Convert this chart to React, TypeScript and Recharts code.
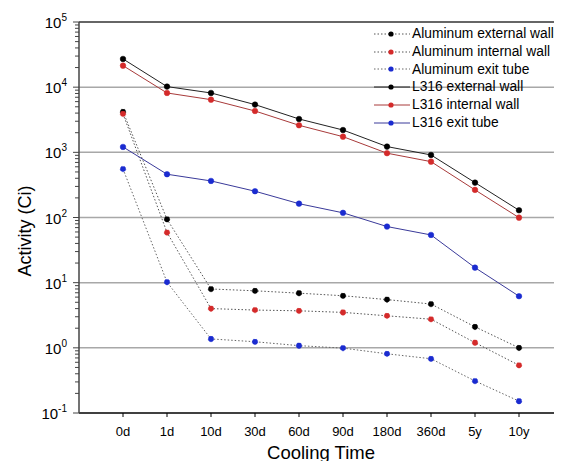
import { LineChart, Line, XAxis, YAxis, ReferenceLine, Legend } from "recharts"

const categories = ["0d", "1d", "10d", "30d", "60d", "90d", "180d", "360d", "5y", "10y"]

const alExternal = [4200, 94, 8.0, 7.5, 6.9, 6.3, 5.5, 4.7, 2.1, 1.0]
const alInternal = [3900, 59, 4.0, 3.8, 3.7, 3.5, 3.1, 2.75, 1.2, 0.54]
const alExit = [556, 10.2, 1.37, 1.24, 1.08, 0.99, 0.81, 0.68, 0.31, 0.152]
const lExternal = [27100, 10200, 8150, 5400, 3250, 2200, 1225, 912, 343, 129]
const lInternal = [21400, 8150, 6430, 4310, 2600, 1740, 970, 720, 265, 99.5]
const lExit = [1210, 461, 364, 253, 163, 118, 72.6, 54, 17, 6.2]

const gridDecades = [1, 10, 100, 1000, 10000]

const data = categories.map((c, i) => ({
  idx: i,
  label: c,
  alExternal: alExternal[i],
  alInternal: alInternal[i],
  alExit: alExit[i],
  lExternal: lExternal[i],
  lInternal: lInternal[i],
  lExit: lExit[i],
}))

// minor + major tick values for the log axis
const yTicks: number[] = []
for (let p = -1; p <= 5; p++) {
  for (let m = 1; m <= 9; m++) {
    if (p === 5 && m > 1) break
    yTicks.push(Number((m * Math.pow(10, p)).toPrecision(3)))
  }
}

const series = [
  { key: "alExternal", name: "Aluminum external wall", stroke: "#555", dot: "#000", dash: "1.5 2" },
  { key: "alInternal", name: "Aluminum internal wall", stroke: "#555", dot: "#d42a2a", dash: "1.5 2" },
  { key: "alExit", name: "Aluminum exit tube", stroke: "#666", dot: "#1a2bd0", dash: "1.5 2" },
  { key: "lExternal", name: "L316 external wall", stroke: "#222", dot: "#000", dash: undefined },
  { key: "lInternal", name: "L316 internal wall", stroke: "#a83a3a", dot: "#d42a2a", dash: undefined },
  { key: "lExit", name: "L316 exit tube", stroke: "#3a3a9a", dot: "#1a2bd0", dash: undefined },
]

const FONT = "'Liberation Sans', Arial, sans-serif"

const YTick = (props: any) => {
  const { y, payload } = props
  const v = payload.value
  const exp = Math.round(Math.log10(v))
  const major = Math.abs(Math.log10(v) - exp) < 1e-6
  return (
    <g>
      <line x1={major ? 73 : 75} x2={79} y1={y} y2={y} stroke="#444" strokeWidth={1} />
      {major && (
        <text x={67} y={y + 6} textAnchor="end" fontFamily={FONT} fontSize={15} fill="#000">
          <tspan>10</tspan>
          <tspan dy={-7} fontSize={10}>{exp}</tspan>
        </text>
      )}
    </g>
  )
}

const XTick = (props: any) => {
  const { x, payload } = props
  return (
    <text x={x} y={436} textAnchor="middle" fontFamily={FONT} fontSize={13} fill="#000">
      {categories[payload.value]}
    </text>
  )
}

const YLabel = () => (
  <text
    x={25}
    y={231}
    transform="rotate(-90, 25, 231)"
    textAnchor="middle"
    dominantBaseline="central"
    fontFamily={FONT}
    fontSize={18}
    fill="#000"
  >
    Activity (Ci)
  </text>
)

const XLabel = () => (
  <text x={321} y={459} textAnchor="middle" fontFamily={FONT} fontSize={18.5} fill="#000">
    Cooling Time
  </text>
)

const LegendBox = () => (
  <div style={{ fontFamily: FONT, fontSize: 13.8, lineHeight: "17.8px", color: "#000" }}>
    {series.map((s) => (
      <div key={s.key} style={{ display: "flex", alignItems: "center", height: 17.8, whiteSpace: "nowrap" }}>
        <svg width={37} height={10} style={{ marginRight: 1, flexShrink: 0 }}>
          <line x1={0} x2={36} y1={5} y2={5} stroke={s.stroke} strokeWidth={1} strokeDasharray={s.dash} />
          <circle cx={17} cy={5} r={2.6} fill={s.dot} />
        </svg>
        <span>{s.name}</span>
      </div>
    ))}
  </div>
)

export default function App() {
  return (
    <div style={{ position: "relative", left: -8, top: -8, width: 562, height: 461, overflow: "hidden", background: "#fff" }}>
      <LineChart width={564} height={461} data={data} margin={{ top: 22, right: 1, bottom: 0, left: 0 }}>
        <XAxis
          dataKey="idx"
          type="number"
          domain={[-1, 10]}
          ticks={[0, 1, 2, 3, 4, 5, 6, 7, 8, 9]}
          interval={0}
          allowDataOverflow
          height={48}
          axisLine={{ stroke: "#000", strokeWidth: 1.5 }}
          tickLine={{ stroke: "#000" }}
          tickSize={4}
          tick={<XTick />}
          label={<XLabel />}
        />
        <YAxis
          scale="log"
          domain={[0.1, 100000]}
          ticks={yTicks}
          interval={0}
          allowDataOverflow
          width={79}
          axisLine={{ stroke: "#444", strokeWidth: 1.5 }}
          tickLine={false}
          tick={<YTick />}
          label={<YLabel />}
        />
        {gridDecades.map((d) => (
          <ReferenceLine key={d} y={d} stroke="#a8a8a8" strokeWidth={1.5} />
        ))}
        <ReferenceLine y={100000} stroke="#666" strokeWidth={2} />
        <Legend
          layout="horizontal"
          verticalAlign="middle"
          align="center"
          content={<LegendBox />}
          wrapperStyle={{ position: "absolute", left: 374, top: 25, width: 200, height: 110 }}
        />
        {series.map((s) => (
          <Line
            key={s.key}
            dataKey={s.key}
            name={s.name}
            stroke={s.stroke}
            strokeWidth={1}
            strokeDasharray={s.dash}
            dot={{ r: 2.8, fill: s.dot, stroke: s.dot, strokeWidth: 0.5 }}
            activeDot={false}
            isAnimationActive={false}
          />
        ))}
      </LineChart>
    </div>
  )
}
